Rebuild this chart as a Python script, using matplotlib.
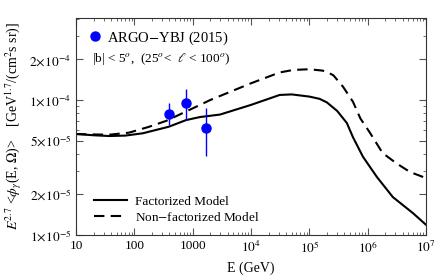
import numpy as np
import matplotlib
matplotlib.use("Agg")
import matplotlib.pyplot as plt
from matplotlib.lines import Line2D
from matplotlib.ticker import LogLocator, FixedLocator, FixedFormatter, NullFormatter

plt.rcParams['font.family'] = ['Liberation Serif', 'DejaVu Serif']
plt.rcParams['mathtext.fontset'] = 'stix'

# Factorized model
E_fact = [10, 20, 37, 70, 140, 390, 770, 1340, 2940, 1e4, 3.1e4, 5e4, 1e5, 1.5e5, 2e5, 3e5, 4.4e5, 5.6e5, 8.3e5,
          1.44e6, 2.7e6, 6e6, 1e7]
F_fact = [5.6e-5, 5.48e-5, 5.41e-5, 5.45e-5, 5.67e-5, 6.34e-5, 7.1e-5, 7.48e-5, 7.8e-5, 9.2e-5, 1.09e-4, 1.1e-4,
          1.06e-4, 1.02e-4, 9.6e-5, 8.3e-5, 6.75e-5, 5.3e-5, 3.8e-5, 2.69e-5, 1.91e-5, 1.45e-5, 1.19e-5]
# Non-factorized model
E_nonf = [10, 20, 37, 81, 178, 350, 1340, 2000, 1e4, 3.1e4, 5.3e4, 1e5, 1.7e5, 2.1e5, 2.6e5, 3.8e5, 5.6e5, 7.5e5,
          1.1e6, 1.8e6, 3.1e6, 5.3e6, 1e7]
F_nonf = [5.6e-5, 5.56e-5, 5.53e-5, 5.73e-5, 6.33e-5, 7.0e-5, 9.2e-5, 1.0e-4, 1.33e-4, 1.6e-4, 1.67e-4, 1.69e-4,
          1.65e-4, 1.6e-4, 1.52e-4, 1.25e-4, 9.7e-5, 7.3e-5, 5.7e-5, 4.05e-5, 3.4e-5, 2.93e-5, 2.64e-5]
# ARGO-YBJ data
E_argo = [390, 770, 1700]
F_argo = [7.9e-5, 9.5e-5, 6.2e-5]
F_lo = [6.5e-5, 7.1e-5, 3.85e-5]
F_hi = [9.5e-5, 1.2e-4, 8.7e-5]

fig = plt.figure(figsize=(4.36, 2.79), dpi=100)
ax = fig.add_axes([76/436, 1-235/279, 350/436, 217/279])

l1, = ax.plot(E_fact, F_fact, color='black', lw=1.5, label='Factorized Model')
l2, = ax.plot(E_nonf, F_nonf, color='black', lw=1.5, ls=(0, (5, 3)), label='Non$-$factorized Model')
yerr = [np.array(F_argo) - np.array(F_lo), np.array(F_hi) - np.array(F_argo)]
ax.errorbar(E_argo, F_argo, yerr=yerr, fmt='o', color='#0000ff', ms=6.5, elinewidth=1, capsize=0, zorder=5)

ax.set_xscale('log')
ax.set_yscale('log')
ax.set_xlim(10, 1e7)
ax.set_ylim(1e-5, 4.05e-4)

ax.xaxis.set_major_locator(FixedLocator([10, 100, 1000, 1e4, 1e5, 1e6, 1e7]))
ax.xaxis.set_major_formatter(FixedFormatter(['10', '100', '1000', '$10^4$', '$10^5$', '$10^6$', '$10^7$']))
ax.xaxis.set_minor_locator(LogLocator(base=10, subs=np.arange(2, 10), numticks=20))
ax.xaxis.set_minor_formatter(NullFormatter())

ax.yaxis.set_major_locator(FixedLocator([1e-5, 2e-5, 5e-5, 1e-4, 2e-4]))
ax.yaxis.set_major_formatter(FixedFormatter([r'$1\!\times\!10^{-5}$', r'$2\!\times\!10^{-5}$', r'$5\!\times\!10^{-5}$',
                                             r'$1\!\times\!10^{-4}$', r'$2\!\times\!10^{-4}$']))
ax.yaxis.set_minor_locator(LogLocator(base=10, subs=[3, 4, 6, 7, 8, 9], numticks=20))
ax.yaxis.set_minor_formatter(NullFormatter())

ax.tick_params(which='both', direction='in', top=True, right=True, labelsize=9.5, color='#555555')
ax.tick_params(which='major', length=5, width=0.8)
ax.tick_params(which='minor', length=2.5, width=0.6)
for s in ax.spines.values():
    s.set_linewidth(0.8)
    s.set_color('#333333')

ax.set_xlabel('E (GeV)', fontsize=10)
ax.set_ylabel(r'$E^{2.7}$ <$\phi_\gamma$(E, $\Omega$)>    [GeV$^{1.7}$/(cm$^2$s sr)]', fontsize=10)

leg1 = ax.legend(handles=[l1, l2], loc='lower left', bbox_to_anchor=(0.015, -0.008), frameon=False,
                 fontsize=9.5, handlelength=2.5, handletextpad=0.6, labelspacing=0.22,
                 borderaxespad=0.6)
ax.add_artist(leg1)
argo_handle = Line2D([], [], marker='o', ls='none', color='#0000ff', ms=6.5)
ax.legend(handles=[argo_handle], labels=['ARGO$-$YBJ (2015)'], loc='center left', bbox_to_anchor=(0.0, 0.908),
          frameon=False, fontsize=10.5, handletextpad=0.3, handlelength=1.0, borderaxespad=0.4)
ax.text(0.047, 0.811, r'|b| < 5$^o$,  (25$^o$<  $\ell$ < 100$^o$)', transform=ax.transAxes, fontsize=9.5,
        ha='left', va='center')

fig.savefig('out.png', dpi=100)
